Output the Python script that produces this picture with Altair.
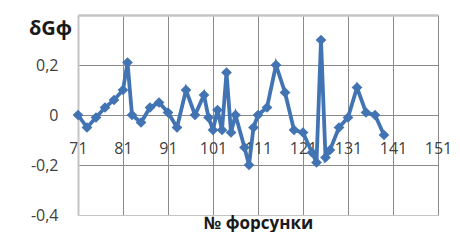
import altair as alt
import pandas as pd

nozzles = [71, 73, 75, 77, 79, 81, 82, 83, 85, 87, 89, 91, 93, 95, 97, 99, 100, 101, 102, 103,
           104, 105, 106, 108, 109, 110, 111, 113, 115, 117, 119, 121, 123, 124, 125, 126, 127,
           129, 131, 133, 135, 137, 139]
dG = [0.0, -0.05, -0.01, 0.03, 0.06, 0.1, 0.21, 0.0, -0.03, 0.03, 0.05, 0.01, -0.05, 0.1, 0.0,
      0.08, -0.01, -0.06, 0.02, -0.06, 0.17, -0.07, 0.0, -0.13, -0.2, -0.05, 0.0, 0.03, 0.2,
      0.09, -0.06, -0.07, -0.15, -0.19, 0.3, -0.17, -0.14, -0.05, -0.01, 0.11, 0.01, 0.0, -0.08]
x_ticks = [71, 81, 91, 101, 111, 121, 131, 141, 151]
y_ticks = [-0.4, -0.2, 0, 0.2, 0.4]

df = pd.DataFrame({"n": nozzles, "v": dG})

BLUE = "#4274B4"
FONT = "Open Sans"

x_enc = alt.X("n:Q",
              scale=alt.Scale(domain=[71, 151], nice=False, zero=False),
              axis=alt.Axis(values=x_ticks, title="№ форсунки", grid=True,
                            gridColor={"condition": {"test": "datum.value == 71", "value": "#c4c4c4"},
                                       "value": "#8a8a8a"},
                            domain=False, ticks=False, tickSize=0,
                            offset=-67, labelPadding=0, labelBaseline="middle",
                            labelFlush=False, labelOverlap=False,
                            labelFont=FONT, labelFontSize=16, labelColor="#404040",
                            titleFont=FONT, titleFontSize=17, titleFontWeight="bold",
                            titleColor="#1a1a1a", titleY=80, titleBaseline="alphabetic"))
y_enc = alt.Y("v:Q",
              scale=alt.Scale(domain=[-0.4, 0.4], nice=False),
              axis=alt.Axis(values=y_ticks, title="δGф", grid=True,
                            gridColor={"condition": {"test": "abs(datum.value) > 0.3", "value": "#c4c4c4"},
                                       "value": "#8a8a8a"},
                            gridWidth={"condition": {"test": "datum.value > 0.3", "value": 2.5},
                                       "value": 1},
                            domain=True, domainColor="#c4c4c4", domainWidth=2,
                            ticks=False, tickSize=0, labelPadding=20,
                            labelExpr="datum.value > 0.3 ? '' : replace(datum.value + '', '.', ',')",
                            labelFont=FONT, labelFontSize=16, labelColor="#404040",
                            titleAngle=0, titleX=-28, titleY=13, titleAlign="center",
                            titleBaseline="middle", titleFont=FONT, titleFontSize=20,
                            titleFontWeight="bold", titleColor="#1a1a1a"))

line = alt.Chart(df).mark_line(color=BLUE, strokeWidth=3.8).encode(x=x_enc, y=y_enc)
pts = alt.Chart(df).mark_point(shape="diamond", filled=True, color=BLUE, size=115, opacity=1).encode(
    x="n:Q", y="v:Q")

chart = alt.layer(line, pts).properties(
    width=360, height=200,
    autosize=alt.AutoSizeParams(type="none"),
    padding={"left": 70, "top": 7, "right": 14, "bottom": 17},
).configure_view(stroke=None).configure(background="white")

chart.save("out.html", embed_options={"renderer": "svg", "actions": False})
